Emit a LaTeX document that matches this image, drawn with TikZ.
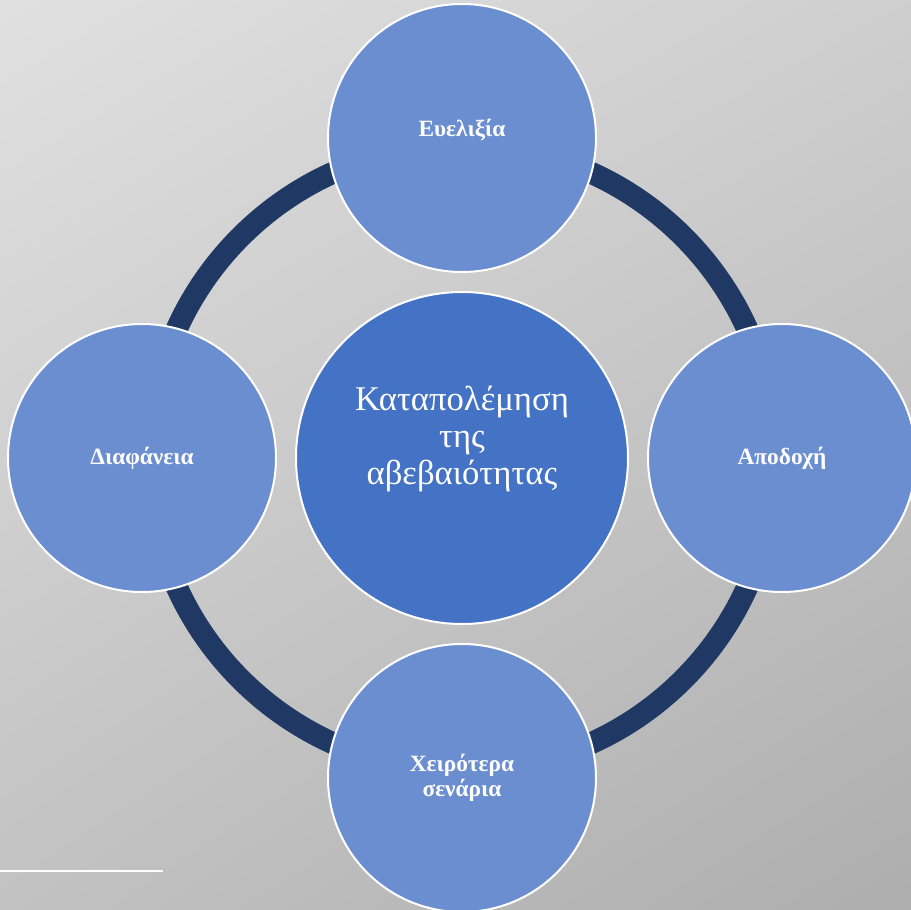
\documentclass[tikz,border=0pt]{standalone}
\usepackage{fontspec}
\setmainfont{Liberation Serif}
\usetikzlibrary{positioning,shadings}

\definecolor{ringblue}{HTML}{1F3864}
\definecolor{hubblue}{HTML}{4472C4}
\definecolor{petalblue}{HTML}{6A8ECF}

\begin{document}
\begin{tikzpicture}[
  x=0.75pt, y=-0.75pt,
  node distance=13.5pt,
  hub/.style={circle, draw=white, line width=1.5pt, fill=hubblue, text=white, minimum size=249pt, align=center, font=\fontsize{26}{28}\selectfont},
  petal/.style={circle, draw=white, line width=1.5pt, fill=petalblue, text=white, minimum size=201pt, align=center, font=\fontsize{17.5}{19}\selectfont\bfseries},
  ring/.style={draw=ringblue, line width=16.5pt}
]
  \useasboundingbox (0,0) rectangle (911,910);
  \clip (0,0) rectangle (911,910);
  \shade[upper left=black!12, upper right=black!19, lower left=black!24, lower right=black!32] (-2,-2) rectangle (913,912);
  \draw[white, line width=1.2pt] (0,871) -- (163,871);

  \coordinate (mid) at (462,458);
  \draw[ring] (mid) circle[radius=234.75pt];

  \node[hub] (hub) at (mid) {Καταπολέμηση\\της\\αβεβαιότητας\\[6pt]};
  \node[petal, above=of hub] (flex) {Ευελιξία\\[-4pt]};
  \node[petal, right=of hub] (accept) {Αποδοχή};
  \node[petal, below=of hub] (worst) {Χειρότερα\\σενάρια};
  \node[petal, left=of hub] (clear) {Διαφάνεια};
\end{tikzpicture}
\end{document}
